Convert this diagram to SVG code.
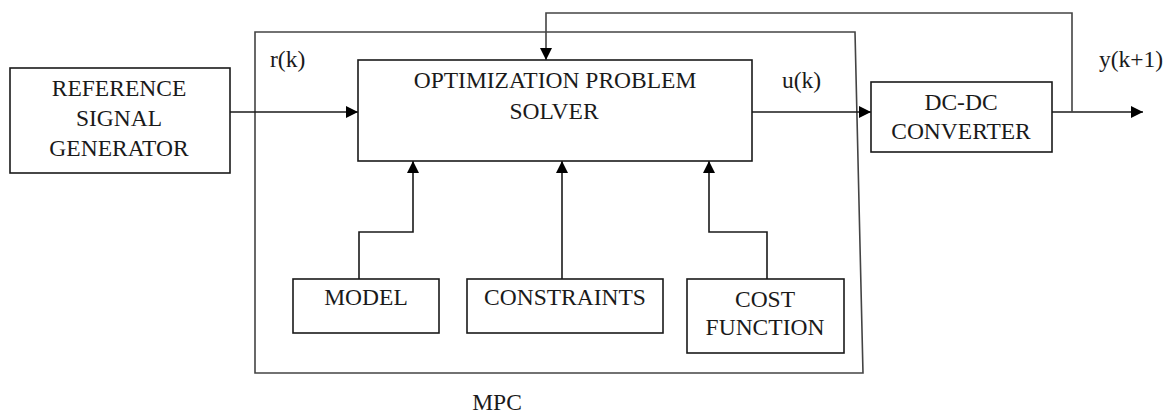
<svg xmlns="http://www.w3.org/2000/svg" width="1171" height="414" viewBox="0 0 1171 414">
<defs>
<style>
.box{fill:#fff;stroke:#1a1a1a;stroke-width:1.6}
.mpc{fill:none;stroke:#444;stroke-width:1.6}
.ln{fill:none;stroke:#1a1a1a;stroke-width:1.6}
.fb{fill:none;stroke:#444;stroke-width:1.6}
text{font-family:"Liberation Serif","Times New Roman",serif;font-size:23.5px;fill:#1a1a1a}
.c{text-anchor:middle}
</style>
<marker id="ah" viewBox="0 0 12 12" refX="12" refY="6" markerWidth="12" markerHeight="12" markerUnits="userSpaceOnUse" orient="auto">
<path d="M0,0 L12,6 L0,12 Z" fill="#000"/>
</marker>
</defs>
<rect width="1171" height="414" fill="#fff"/>
<g id="mpc">
<path class="mpc" d="M255,32 L855,32 L863,373 L255,373 Z"/>
<text class="c" x="497" y="410">MPC</text>
</g>
<g id="connectors">
<path class="ln" d="M230,112 L358,112" marker-end="url(#ah)"/>
<path class="ln" d="M752,112 L871,112" marker-end="url(#ah)"/>
<path class="ln" d="M1052,112 L1143,112" marker-end="url(#ah)"/>
<path class="fb" d="M1072,112 L1072,13 L546,13 L546,60" marker-end="url(#ah)"/>
<path class="ln" d="M359,279 L359,232 L413,232 L413,161" marker-end="url(#ah)"/>
<path class="ln" d="M562,279 L562,161" marker-end="url(#ah)"/>
<path class="ln" d="M767,279 L767,232 L709,232 L709,161" marker-end="url(#ah)"/>
</g>
<g id="labels">
<text x="270" y="67">r(k)</text>
<text x="782" y="88">u(k)</text>
<text x="1099" y="67">y(k+1)</text>
</g>
<g id="reference">
<rect class="box" x="10" y="68" width="220" height="105"/>
<text class="c" x="119" y="96">REFERENCE</text>
<text class="c" x="119" y="126">SIGNAL</text>
<text class="c" x="119" y="156">GENERATOR</text>
</g>
<g id="solver">
<rect class="box" x="358" y="60" width="394" height="101"/>
<text class="c" x="555" y="88">OPTIMIZATION PROBLEM</text>
<text class="c" x="554" y="119">SOLVER</text>
</g>
<g id="converter">
<rect class="box" x="871" y="82" width="181" height="70"/>
<text class="c" x="961" y="110">DC-DC</text>
<text class="c" x="961" y="139">CONVERTER</text>
</g>
<g id="model">
<rect class="box" x="293" y="279" width="146" height="54"/>
<text class="c" x="366" y="305">MODEL</text>
</g>
<g id="constraints">
<rect class="box" x="467" y="279" width="196" height="54"/>
<text class="c" x="565" y="305">CONSTRAINTS</text>
</g>
<g id="cost">
<rect class="box" x="687" y="279" width="157" height="74"/>
<text class="c" x="765" y="307">COST</text>
<text class="c" x="765" y="335">FUNCTION</text>
</g>
</svg>
